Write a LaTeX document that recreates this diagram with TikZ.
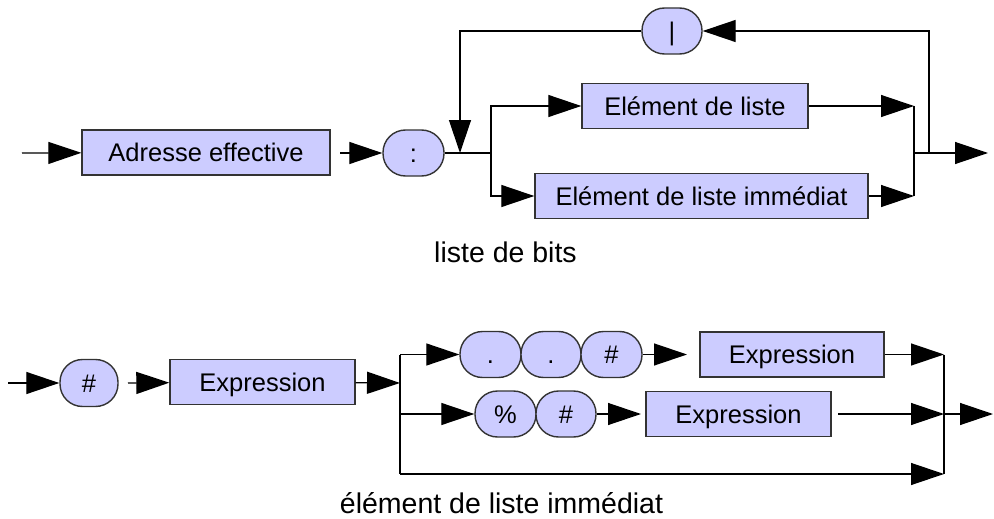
\documentclass[tikz,border=0pt]{standalone}
\usepackage{fontspec}
\setmainfont{Liberation Sans}
\usetikzlibrary{arrows.meta}

\definecolor{boxfill}{RGB}{204,204,255}
\definecolor{boxline}{RGB}{51,51,51}

\begin{document}
\begin{tikzpicture}[
  x=1pt, y=-1pt,
  font=\fontsize{25.5}{30}\selectfont,
  conn/.style={line width=1.3pt, black},
  arr/.style={conn, -{Triangle[length=33pt,width=22pt]}},
  term/.style={draw=boxline, line width=1.4pt, fill=boxfill, rectangle,
               minimum height=45pt, inner sep=0pt,
               text height=18.3pt, text depth=0pt},
  lit/.style={draw=boxline, line width=1.4pt, fill=boxfill, rectangle,
              rounded corners=22.5pt, minimum width=61pt, minimum height=46pt,
              inner sep=0pt, text height=18.3pt, text depth=0pt},
  caption/.style={inner sep=0pt, anchor=base, font=\fontsize{28.5}{34}\selectfont}
]
\useasboundingbox (0,0) rectangle (994,519);

% ---------- liste de bits ----------
\node[term, minimum width=248pt] (adr) at (206,152.5) {Adresse effective};
\node[lit] (colon) at (413.5,153) {:};
\node[lit, minimum width=60pt] (bar) at (672,31) {|};
\node[term, minimum width=226pt] (el) at (695,106) {Elément de liste};
\node[term, minimum width=333pt] (eli) at (701.5,196) {Elément de liste immédiat};

\coordinate (in1) at (22,153);
\coordinate (g1) at (340,153);
\coordinate (split1) at (491,153);
\coordinate (loopin) at (460,153);
\coordinate (join1) at (914,153);
\coordinate (loopout) at (929,153);
\coordinate (out1) at (988,153);

\draw[arr] (in1) -- (adr);
\draw[arr] (g1) -- (colon);
\draw[conn] (colon) -- (split1);
\draw[arr] (split1) |- (el);
\draw[arr] (split1) |- (eli);
\draw[arr] (el) -- (el -| join1);
\draw[arr] (eli) -- (eli -| join1);
\draw[conn] (el -| join1) -- (eli -| join1);
\draw[arr] (join1) -- (out1);
\draw[arr] (loopout) |- (bar);
\draw[arr] (bar) -| (loopin);

\node[caption] (cap1) at (505.5,262) {liste de bits};

% ---------- élément de liste immédiat ----------
\node[lit, minimum width=58pt, minimum height=47pt] (hash) at (89,383) {\#};
\node[term, minimum width=185pt] (ex1) at (262.5,382) {Expression};

\node[lit] (d1) at (490.5,354.5) {.};
\node[lit, minimum width=60pt] (d2) at (551,354.5) {.};
\node[lit] (h2) at (611.5,354.5) {\#};
\node[term, minimum width=184pt] (ex2) at (792,354.5) {Expression};

\node[lit] (pc) at (505.5,414) {\%};
\node[lit, minimum width=60pt] (h3) at (566,414) {\#};
\node[term, minimum width=185pt] (ex3) at (738.5,414) {Expression};

\coordinate (in2) at (8,383);
\coordinate (g2) at (128,383);
\coordinate (split2) at (400,383);
\coordinate (ta) at (687,354.5);
\coordinate (tb) at (641,414);
\coordinate (gb) at (838,414);
\coordinate (bl) at (400,474);
\coordinate (join2) at (944,414);
\coordinate (br) at (944,474);
\coordinate (out2) at (993,414);

\draw[arr] (in2) -- (hash);
\draw[arr] (g2) -- (ex1);
\draw[arr] (ex1) -- (split2);
\draw[conn] (split2 |- d1) -- (bl);
\draw[arr] (split2 |- d1) -- (d1);
\draw[arr] (split2 |- pc) -- (pc);
\draw[arr] (h2) -- (ta);
\draw[arr] (h3) -- (tb);
\draw[arr] (ex2) -- (ex2 -| join2);
\draw[arr] (gb) -- (join2);
\draw[arr] (bl) -- (br);
\draw[conn] (ex2 -| join2) -- (br);
\draw[arr] (join2) -- (out2);

\node[caption] (cap2) at (501.5,513.5) {élément de liste immédiat};
\end{tikzpicture}
\end{document}
